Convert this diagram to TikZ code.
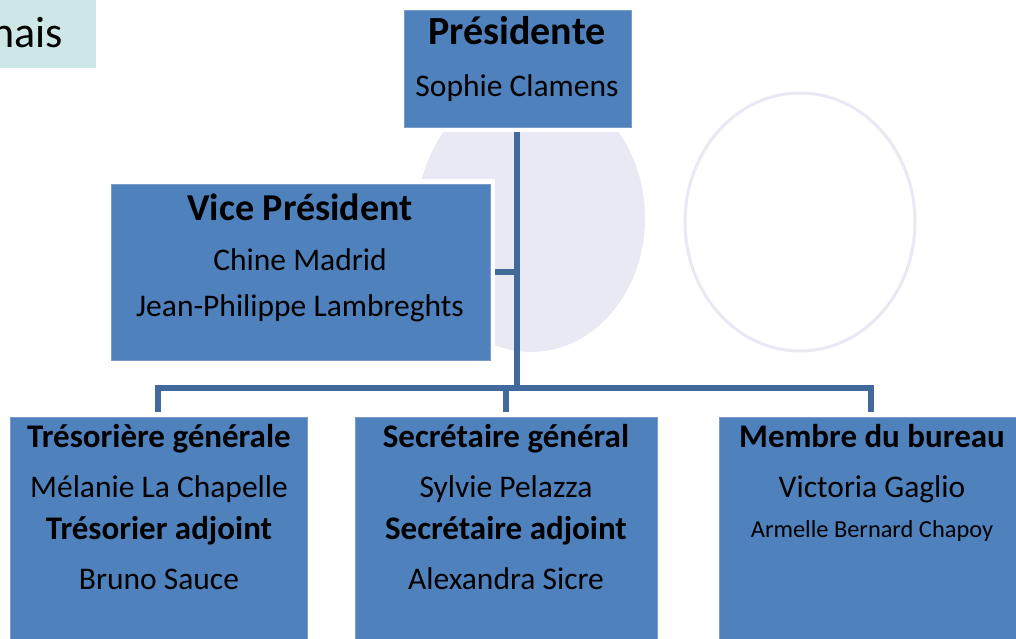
\documentclass[tikz,border=0pt]{standalone}
\usepackage{fontspec}
\setmainfont{Carlito}
\definecolor{boxblue}{HTML}{4F81BD}
\definecolor{boxedge}{HTML}{7A9CC9}
\definecolor{linkblue}{HTML}{41699C}
\definecolor{tealbg}{HTML}{CDE6E6}
\definecolor{lavender}{HTML}{E9E9F4}
\pgfdeclarelayer{back}
\pgfdeclarelayer{links}
\pgfsetlayers{back,links,main}
\tikzset{
  orgbox/.style={rectangle, fill=boxblue, draw=boxedge, line width=0.8pt,
    preaction={draw=white, line width=10pt}, inner sep=0pt},
  link/.style={draw=linkblue, line width=5.5pt, line join=miter},
  ttl/.style={anchor=base, inner sep=0pt, font=\bfseries\fontsize{33}{33}\selectfont},
  nm/.style={anchor=base, inner sep=0pt, font=\fontsize{31.5}{31.5}\selectfont},
}
\begin{document}
\begin{tikzpicture}[x=1pt,y=-1pt]
\useasboundingbox (0,0) rectangle (1016,639);
\clip (0,0) rectangle (1016,639);
% boxes
\node[orgbox, minimum width=227pt, minimum height=117pt] (pres) at (517.5,68.5) {};
\node[orgbox, minimum width=379pt, minimum height=176pt] (vp) at (300.5,272) {};
\node[orgbox, minimum width=297pt, minimum height=240pt] (b1) at (158.5,537) {};
\node[orgbox, minimum width=302pt, minimum height=240pt] (b2) at (506,537) {};
\node[orgbox, minimum width=303pt, minimum height=240pt] (b3) at (870.5,537) {};
% background shapes
\begin{pgfonlayer}{back}
\fill[lavender] (531,218) ellipse [x radius=114, y radius=134];
\draw[lavender, line width=3pt] (800,222) ellipse [x radius=115, y radius=129];
\end{pgfonlayer}
% title tab
\fill[tealbg] (-5,-5) rectangle (96,68);
\node[anchor=base east, inner sep=0pt, font=\fontsize{44}{44}\selectfont] (tab) at (63,48) {nais};
% connectors (behind boxes)
\coordinate (j1) at (517,388);
\coordinate (l1) at (158,388);
\coordinate (l2) at (506,388);
\coordinate (l3) at (871,388);
\begin{pgfonlayer}{links}
\draw[link] (pres.south -| j1) -- (j1);
\draw[link] (vp.east) -- (vp.east -| j1);
\draw[link] (b1.north -| l1) -- (l1) -- (l3) -- (b3.north -| l3);
\draw[link] (l2) -- (b2.north -| l2);
\end{pgfonlayer}
% texts
\node[anchor=base, inner sep=0pt, font=\bfseries\fontsize{40}{40}\selectfont] (presT) at (517,45) {Présidente};
\node[nm] (presN) at (517,97) {Sophie Clamens};
\node[anchor=base, inner sep=0pt, font=\bfseries\fontsize{38}{38}\selectfont] (vpT) at (300,220) {Vice Président};
\node[nm] (vpN1) at (300,270) {Chine Madrid};
\node[nm] (vpN2) at (300,316) {Jean-Philippe Lambreghts};
\node[ttl] (b1T1) at (159,447) {Trésorière générale};
\node[nm] (b1N1) at (159,497) {Mélanie La Chapelle};
\node[ttl] (b1T2) at (159,539) {Trésorier adjoint};
\node[nm] (b1N2) at (159,589) {Bruno Sauce};
\node[ttl] (b2T1) at (506,447) {Secrétaire général};
\node[nm] (b2N1) at (506,497) {Sylvie Pelazza};
\node[ttl] (b2T2) at (506,539) {Secrétaire adjoint};
\node[nm] (b2N2) at (506,589) {Alexandra Sicre};
\node[ttl] (b3T1) at (872,447) {Membre du bureau};
\node[nm] (b3N1) at (872,497) {Victoria Gaglio};
\node[anchor=base, inner sep=0pt, font=\fontsize{24.4}{24.4}\selectfont] (b3N2) at (872,537) {Armelle Bernard Chapoy};
\end{tikzpicture}
\end{document}
